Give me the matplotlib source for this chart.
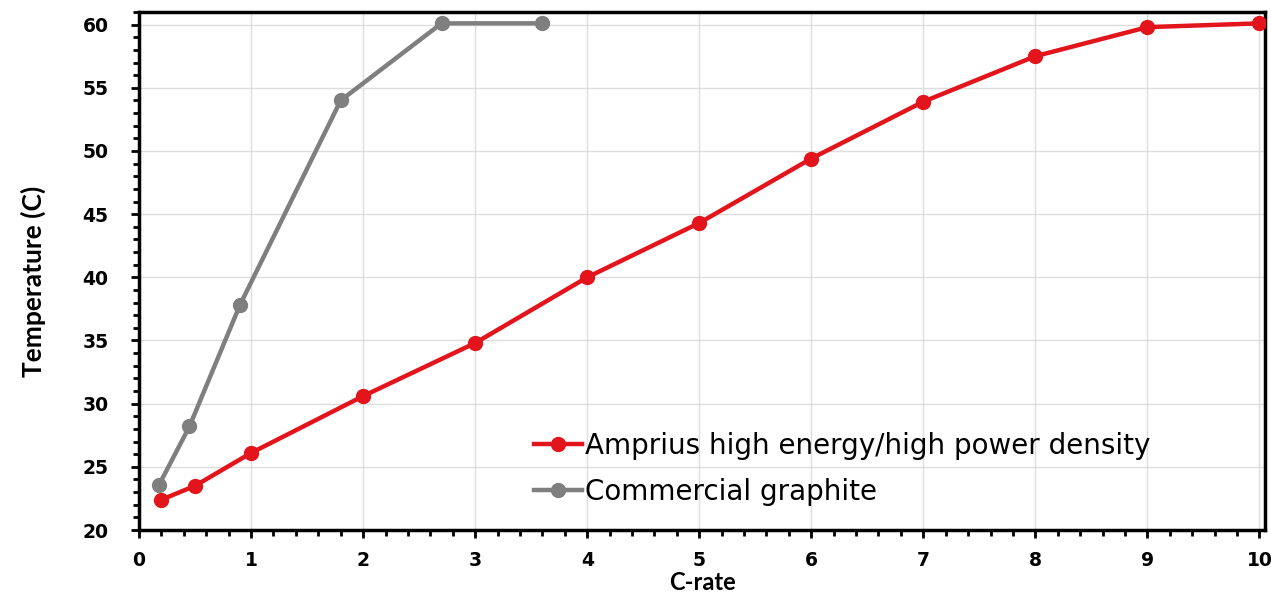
import matplotlib.pyplot as plt
from matplotlib.ticker import MultipleLocator

# C-rate vs cell temperature
amprius_rate = [0.2, 0.5, 1, 2, 3, 4, 5, 6, 7, 8, 9, 10]
amprius_temp = [22.4, 23.5, 26.1, 30.6, 34.8, 40.0, 44.3, 49.4, 53.9, 57.5, 59.8, 60.1]

graphite_rate = [0.18, 0.45, 0.9, 1.8, 2.7, 3.6]
graphite_temp = [23.6, 28.2, 37.8, 54.0, 60.1, 60.1]

fig = plt.figure(figsize=(12.71, 5.96), dpi=100)
ax = fig.add_axes([0.1094, 0.1107, 0.8859, 0.8692])

ax.plot(amprius_rate, amprius_temp, color='#E3141B', lw=3.2, marker='o', ms=10,
        label='Amprius high energy/high power density', zorder=3)
ax.plot(graphite_rate, graphite_temp, color='#7F7F7F', lw=3.2, marker='o', ms=10,
        label='Commercial graphite', zorder=3)

ax.set_xlim(0, 10.05)
ax.set_ylim(20, 61)
ax.xaxis.set_major_locator(MultipleLocator(1))
ax.xaxis.set_minor_locator(MultipleLocator(0.2))
ax.yaxis.set_major_locator(MultipleLocator(5))
ax.yaxis.set_minor_locator(MultipleLocator(1))

ax.grid(True, which='major', color='#DDDDDD', lw=1)
ax.set_axisbelow(True)

for s in ax.spines.values():
    s.set_linewidth(2.5)
    s.set_color('black')

ax.tick_params(which='major', direction='out', length=6, width=2, labelsize=13.5)
ax.tick_params(axis='x', which='major', pad=9)
ax.tick_params(axis='y', which='major', pad=16)
ax.tick_params(which='minor', direction='out', length=4, width=2)
for lab in ax.get_xticklabels() + ax.get_yticklabels():
    lab.set_fontweight('bold')
    lab.set_family('DejaVu Sans')

ax.set_xlabel('C-rate', fontsize=17, fontweight='bold', family='Lato', labelpad=1)
ax.set_ylabel('Temperature (C)', fontsize=19, fontweight='bold', family='Lato')
ax.yaxis.set_label_coords(-0.083, 0.48)

leg = ax.legend(loc='lower left', bbox_to_anchor=(0.338, 0.02), frameon=False,
                prop={'family': 'DejaVu Sans', 'size': 20}, handlelength=1.75,
                handletextpad=0.12, labelspacing=0.65, borderpad=0)

fig.savefig('out.png', dpi=100)
